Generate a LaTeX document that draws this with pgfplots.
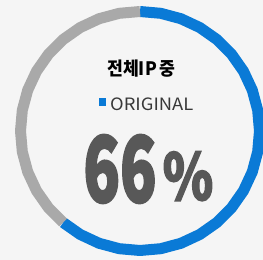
\documentclass[border=0pt]{standalone}
\usepackage{pgfplots}
\pgfplotsset{compat=1.18}
\usepackage{graphicx}
\usepackage{fontspec}
\setmainfont{Noto Sans CJK KR}
\newfontfamily\krblack{Noto Sans CJK KR Black}
\newfontfamily\krheavy{Noto Sans CJK KR Black}[FakeBold=2.5]
\definecolor{ringblue}{HTML}{0A7AD6}
\definecolor{ringgray}{HTML}{A9A9A9}
\definecolor{numgray}{HTML}{585858}
\definecolor{bgc}{HTML}{F5F5F5}
\begin{document}
\begin{tikzpicture}
\begin{axis}[name=ax, x=1bp, y=1bp, scale only axis,
  xmin=-140, xmax=123, ymin=-129, ymax=131, hide axis, clip=true]
\fill[bgc] (axis cs:-140,-129) rectangle (axis cs:123,131);
% ORIGINAL share (blue), drawn clockwise from 12 o'clock
\addplot[data cs=polar, ringblue, line width=11bp, line join=round, line cap=butt]
coordinates {(90,119.5) (80,119.5) (70,119.5) (60,119.5) (50,119.5) (40,119.5)
 (30,119.5) (20,119.5) (10,119.5) (0,119.5) (-10,119.5) (-20,119.5) (-30,119.5)
 (-40,119.5) (-50,119.5) (-60,119.5) (-70,119.5) (-80,119.5) (-90,119.5)
 (-100,119.5) (-110,119.5) (-120,119.5) (-130,119.5)};
% remainder (gray)
\addplot[data cs=polar, ringgray, line width=11bp, line join=round, line cap=butt]
coordinates {(-130,119.5) (-140,119.5) (-150,119.5) (-160,119.5) (-170,119.5)
 (-180,119.5) (-190,119.5) (-200,119.5) (-210,119.5) (-220,119.5) (-230,119.5)
 (-240,119.5) (-250,119.5) (-260,119.5) (-270,119.5)};
\node[black, inner sep=0pt] at (axis cs:1.5,62.5)
  {\scalebox{0.93}[1]{\krblack\fontsize{18.5bp}{18.5bp}\selectfont 전체IP\kern-1bp\ 중}};
\fill[ringblue] (axis cs:-41.5,25) rectangle (axis cs:-34,32.5);
\node[anchor=base west, inner sep=0pt, text=black!78] at (axis cs:-30,21)
  {\scalebox{1.08}[1]{\fontsize{17bp}{17bp}\selectfont ORIGINAL}};
\node[anchor=base, inner sep=0pt, text=numgray] at (axis cs:-20,-71)
  {\scalebox{0.66}[1]{\krheavy\fontsize{91bp}{91bp}\selectfont 66}};
\node[anchor=base, inner sep=0pt, text=numgray] at (axis cs:48,-69)
  {\scalebox{0.8}[1]{\krheavy\fontsize{64bp}{64bp}\selectfont \%}};
\end{axis}
\pgfresetboundingbox
\path[use as bounding box] (ax.south west) rectangle (ax.north east);
\end{tikzpicture}
\end{document}
